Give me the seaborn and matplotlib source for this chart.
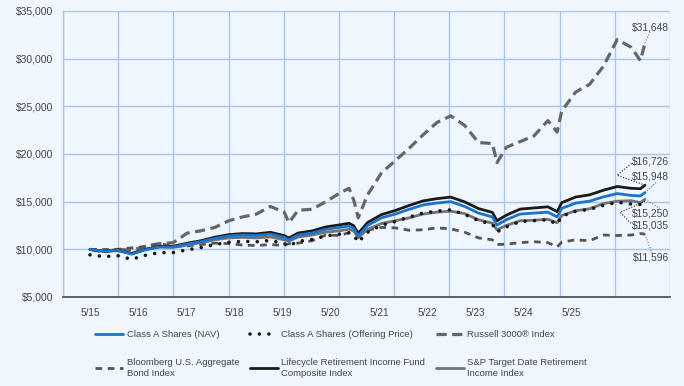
import numpy as np
import pandas as pd
import matplotlib
matplotlib.use("Agg")
import matplotlib.pyplot as plt
import seaborn as sns
from matplotlib.lines import Line2D
from matplotlib.transforms import IdentityTransform
from matplotlib.ticker import FuncFormatter

dates = ["2015-05","2015-08","2015-11","2016-02","2016-05","2016-08","2016-11",
         "2017-02","2017-05","2017-08","2017-11","2018-02","2018-05","2018-08",
         "2018-11","2018-12","2019-02","2019-05","2019-08","2019-11","2020-01",
         "2020-02","2020-03","2020-05","2020-08","2020-11","2021-02","2021-05",
         "2021-08","2021-11","2022-02","2022-05","2022-08","2022-09","2022-11",
         "2023-02","2023-05","2023-08","2023-10","2023-11","2024-02","2024-05",
         "2024-08","2024-11","2025-02","2025-04","2025-05"]

nav = [10000, 9800, 9900, 9500, 9950, 10250, 10250, 10550, 10800, 11150, 11400,
       11500, 11450, 11600, 11250, 11000, 11500, 11700, 12100, 12300, 12450,
       12200, 11400, 12500, 13300, 13700, 14200, 14650, 14860, 15000, 14500,
       13800, 13400, 12550, 13100, 13700, 13800, 13900, 13400, 14300, 14850,
       15050, 15500, 15850, 15650, 15600, 15948]
offering = [9425, 9240, 9330, 8955, 9380, 9660, 9660, 9945, 10180, 10510, 10745,
            10840, 10795, 10935, 10605, 10370, 10840, 11030, 11405, 11595, 11735,
            11500, 10745, 11785, 12540, 12915, 13385, 13810, 14010, 14140, 13670,
            13010, 12630, 11830, 12350, 12915, 13010, 13105, 12630, 13480, 14000,
            14190, 14610, 14940, 14755, 14705, 15035]
russell = [10000, 9700, 10000, 9900, 10300, 10600, 10700, 11700, 11950, 12300, 13000,
           13400, 13700, 14500, 13900, 12800, 14100, 14200, 15000, 15900, 16400,
           15200, 13300, 15700, 18000, 19300, 20600, 22000, 23300, 24000, 23000,
           21200, 21100, 19100, 20700, 21300, 21900, 23500, 22300, 24500, 26500,
           27300, 29200, 32000, 31200, 29800, 31648]
bloomberg = [10000, 9980, 10000, 10150, 10300, 10600, 10300, 10350, 10500, 10650,
             10600, 10450, 10400, 10500, 10400, 10600, 10650, 10900, 11500, 11450,
             11750, 11900, 11800, 12000, 12300, 12250, 12000, 12050, 12250, 12150,
             11800, 11200, 11000, 10500, 10550, 10700, 10800, 10700, 10250, 10750,
             11000, 10900, 11500, 11450, 11500, 11650, 11596]
lifecycle = [10000, 9810, 9925, 9535, 10000, 10310, 10325, 10640, 10905, 11275, 11540,
             11655, 11620, 11785, 11445, 11195, 11710, 11930, 12350, 12570, 12735,
             12485, 11670, 12805, 13640, 14070, 14600, 15080, 15315, 15480, 14980,
             14275, 13875, 13000, 13580, 14220, 14340, 14460, 13955, 14895, 15485,
             15715, 16200, 16590, 16400, 16360, 16726]
sp_target = [10000, 9800, 9850, 9600, 10000, 10250, 10200, 10450, 10700, 11000, 11200,
             11250, 11200, 11300, 11000, 10850, 11300, 11500, 11800, 11950, 12100,
             11950, 11200, 12100, 12700, 13000, 13300, 13700, 13900, 14000, 13750,
             13100, 12750, 12050, 12500, 13000, 13050, 13150, 12800, 13550, 14050,
             14250, 14800, 15050, 15100, 14900, 15250]

tick_labels = ["5/15","5/16","5/17","5/18","5/19","5/20","5/21","5/22","5/23","5/24","5/25"]
y_ticks = [5000, 10000, 15000, 20000, 25000, 30000, 35000]

labels = {
    "nav": "Class A Shares (NAV)",
    "off": "Class A Shares (Offering Price)",
    "rus": "Russell 3000\u00ae Index",
    "blo": "Bloomberg U.S. Aggregate\nBond Index",
    "lif": "Lifecycle Retirement Income Fund\nComposite Index",
    "sp": "S&P Target Date Retirement\nIncome Index",
}

dt = pd.to_datetime(dates)
t = (dt.year - 2015) + (dt.month - 5) / 12.0
df = pd.DataFrame({"t": t, "nav": nav, "off": offering, "rus": russell,
                   "blo": bloomberg, "lif": lifecycle, "sp": sp_target})

BG = "#eff6fe"
GRID = "#a9c5ee"
TXT = "#444444"
BLUE = "#1a73cc"

sns.set_style("white")
plt.rcParams["font.family"] = ["Liberation Sans", "DejaVu Sans"]

W, H = 684, 386
fig = plt.figure(figsize=(W / 100, H / 100), dpi=100, facecolor=BG)
ax = fig.add_axes([63 / W, 1 - 297 / H, 607 / W, 286 / H])
ax.set_facecolor(BG)

styles = {
    "rus": dict(color="#666666", lw=2.3, linestyle=(0, (3.2, 1.7)), zorder=2),
    "blo": dict(color="#555555", lw=2.0, linestyle=(0, (2.4, 2.0)), zorder=2),
    "sp": dict(color="#737373", lw=2.0, linestyle="-", zorder=3),
    "lif": dict(color="#1a1a1a", lw=2.0, linestyle="-", zorder=4),
    "nav": dict(color=BLUE, lw=2.0, linestyle="-", zorder=5),
    "off": dict(color="#1a1a1a", lw=2.6, linestyle=(0, (0.01, 2.6)),
                dash_capstyle="round", zorder=6),
}
for key in ["rus", "blo", "sp", "lif", "nav", "off"]:
    sns.lineplot(data=df, x="t", y=key, ax=ax, legend=False, **styles[key])

x0 = (63 - 90) / 55.5
x1 = (670 - 90) / 55.5
ax.set_xlim(x0, x1)
ax.set_ylim(5000, 35000)
ax.set_xlabel("")
ax.set_ylabel("")

ax.set_xticks(np.linspace(x0, x1, 12), minor=True)
ax.set_xticks(np.arange(len(tick_labels)) * 0.8676)
ax.set_xticklabels(tick_labels)
ax.set_yticks(y_ticks)
ax.yaxis.set_major_formatter(FuncFormatter(lambda v, p: f"${v:,.0f}"))
ax.grid(False)
ax.grid(True, axis="x", which="minor", color=GRID, lw=1.0)
ax.grid(True, axis="y", which="major", color=GRID, lw=1.0)
ax.tick_params(axis="both", which="both", length=0)
ax.tick_params(axis="x", labelsize=7.2, colors=TXT, pad=8)
ax.tick_params(axis="y", labelsize=7.5, colors=TXT, pad=7)
for s in ["top", "right"]:
    ax.spines[s].set_visible(False)
ax.spines["left"].set_color(GRID)
ax.spines["left"].set_linewidth(1.0)
ax.spines["bottom"].set_color("#555555")
ax.spines["bottom"].set_linewidth(1.3)

# end-value leader lines and labels
fig.canvas.draw()
def end_px(key):
    return ax.transData.transform((df["t"].iloc[-1], df[key].iloc[-1]))

leaders = {
    "rus": ([(0, 0), (6, 13)], "#777777"),
    "lif": ([(0, 0), (-28, 10), (-13, 22)], "#1a1a1a"),
    "nav": ([(0, 0), (12, 11)], BLUE),
    "sp": ([(0, 0), (15, -9)], "#777777"),
    "off": ([(0, 0), (-25, -11), (-13, -23)], "#1a1a1a"),
    "blo": ([(0, 0), (7, -19)], "#777777"),
}
for key, (offs, col) in leaders.items():
    ex, ey = end_px(key)
    xs = [ex + o[0] for o in offs]
    ys = [ey + o[1] for o in offs]
    fig.add_artist(Line2D(xs, ys, transform=IdentityTransform(), color=col,
                          lw=0.8, linestyle=(0, (1, 1.5)), zorder=10))

end_label_y = {"rus": 27, "lif": 162, "nav": 176, "sp": 214, "off": 226, "blo": 257}
for key, yy in end_label_y.items():
    fig.text(669 / W, 1 - yy / H, f"${df[key].iloc[-1]:,.0f}", ha="right",
             va="center", fontsize=7.4, color=TXT)

# legend
handles = {}
for key in styles:
    st = {k: v for k, v in styles[key].items() if k != "zorder"}
    handles[key] = Line2D([], [], **st)
order = ["nav", "blo", "off", "lif", "rus", "sp"]
leg = fig.legend([handles[k] for k in order], [labels[k] for k in order],
                 ncol=3, loc="upper left", bbox_to_anchor=(95 / W, 1 - 330 / H),
                 frameon=False, fontsize=6.8, handlelength=3.0,
                 handletextpad=0.35, columnspacing=1.1, labelspacing=2.0,
                 borderaxespad=0, borderpad=0)
for txt in leg.get_texts():
    txt.set_color(TXT)
    txt.set_linespacing(1.3)

fig.savefig("out.png", dpi=100, facecolor=BG)
